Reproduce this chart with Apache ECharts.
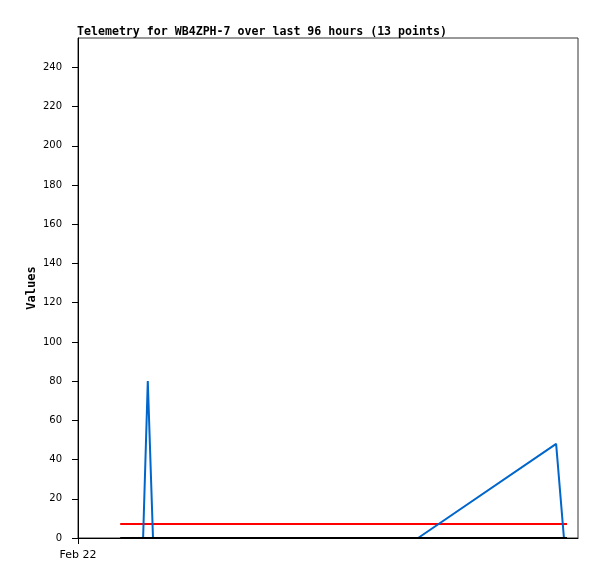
<!DOCTYPE html>
<html>
<head>
<meta charset="utf-8">
<script src="https://cdn.jsdelivr.net/npm/echarts@6/dist/echarts.min.js"></script>
<style>html,body{margin:0;padding:0;background:#fff}#c{width:597px;height:579px}</style>
</head>
<body>
<div id="c"></div>
<script>
// x values are hours since Feb 22 00:00 (96-hour window)
const xTickValues = [0];
const xTickLabels = ['Feb 22'];
const blueX = [12.5, 13.4, 14.4, 65.3, 91.8, 93.3];
const blueY = [0, 80, 0, 0, 48, 0];
const redX = [8.1, 93.9];
const redY = [7.1, 7.1];
const blackX = [8.1, 93.9];
const blackY = [0, 0];

const zip = (xs, ys) => xs.map((x, i) => [x, ys[i]]);
const chart = echarts.init(document.getElementById('c'), null, {renderer: 'canvas'});
const mono = '"DejaVu Sans Mono", "Liberation Mono", monospace';
chart.setOption({
  animation: false,
  title: {
    text: 'Telemetry for WB4ZPH-7 over last 96 hours (13 points)',
    left: 72, top: 21,
    textStyle: {fontFamily: mono, fontWeight: 'bold', fontSize: 11.6, color: '#000'}
  },
  grid: {left: 78, top: 38, width: 500, height: 500, show: true, borderColor: '#333', borderWidth: 1, backgroundColor: 'transparent'},
  xAxis: {
    type: 'value', min: 0, max: 96,
    splitLine: {show: false},
    axisLine: {lineStyle: {color: '#000', width: 1}},
    axisTick: {show: true, length: 6, lineStyle: {color: '#000'}, customValues: xTickValues},
    axisLabel: {
      customValues: xTickValues,
      formatter: v => { const i = xTickValues.indexOf(v); return i >= 0 ? xTickLabels[i] : ''; },
      fontFamily: 'DejaVu Sans', fontSize: 11, color: '#000', margin: 12
    }
  },
  yAxis: {
    type: 'value', min: 0, max: 255, interval: 20,
    name: 'Values', nameLocation: 'middle', nameGap: 40, nameRotate: 90, nameMoveOverlap: false,
    nameTextStyle: {fontFamily: mono, fontWeight: 'bold', fontSize: 12, color: '#000'},
    splitLine: {show: false},
    axisLine: {show: true, lineStyle: {color: '#000', width: 1}},
    axisTick: {show: true, length: 6, lineStyle: {color: '#000'}},
    axisLabel: {fontFamily: 'DejaVu Sans', fontSize: 10, color: '#000', margin: 16, showMaxLabel: false}
  },
  series: [
    {type: 'line', data: zip(redX, redY), symbol: 'none', lineStyle: {color: '#ff0000', width: 2}, z: 2},
    {type: 'line', data: zip(blueX, blueY), symbol: 'none', lineStyle: {color: '#0066cc', width: 2}, z: 3},
    {type: 'line', data: zip(blackX, blackY), symbol: 'none', lineStyle: {color: '#000', width: 2}, z: 4}
  ]
});
</script>
</body>
</html>
